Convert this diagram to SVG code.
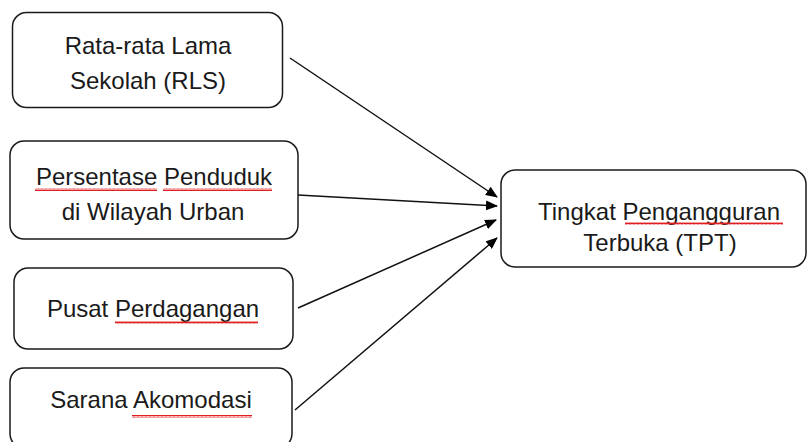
<svg xmlns="http://www.w3.org/2000/svg" width="807" height="442" viewBox="0 0 807 442">
<style>
.box{fill:#fff;stroke:#1a1a1a;stroke-width:1.5}
.t{font-family:"Liberation Sans",Arial,sans-serif;font-size:24px;fill:#1a1a1a;text-anchor:middle}
.c{stroke:#111;stroke-width:1.5;fill:none}
.sq{fill:url(#wave)}
</style>
<defs>
<marker id="ah" markerWidth="12" markerHeight="10" refX="11" refY="5" orient="auto" markerUnits="userSpaceOnUse" viewBox="0 0 12 10">
<path d="M0,0 L12,5 L0,10 Z" fill="#000"/>
</marker>
<pattern id="wave" width="4" height="3" patternUnits="userSpaceOnUse">
<path d="M0,2.5 L1,0.5 L2,2.5 L3,0.5 L4,2.5" fill="none" stroke="#e02020" stroke-width="1"/>
</pattern>
</defs>
<g id="connectors">
<line class="c" x1="290" y1="58" x2="497" y2="197" marker-end="url(#ah)"/>
<line class="c" x1="298" y1="195" x2="497" y2="206" marker-end="url(#ah)"/>
<line class="c" x1="298" y1="308" x2="496" y2="220" marker-end="url(#ah)"/>
<line class="c" x1="295" y1="410" x2="497" y2="238" marker-end="url(#ah)"/>
</g>
<g id="rls">
<rect class="box" x="12.5" y="12.5" width="270" height="95" rx="14"/>
<text class="t" x="148" y="54">Rata-rata Lama</text>
<text class="t" x="148" y="89">Sekolah (RLS)</text>
</g>
<g id="urban">
<rect class="box" x="10" y="141" width="288" height="98" rx="14"/>
<text class="t" x="154" y="185">Persentase Penduduk</text>
<text class="t" x="153" y="220">di Wilayah Urban</text>
<rect class="sq" x="35" y="188" width="122" height="3"/>
<rect class="sq" x="163" y="188" width="109" height="3"/>
</g>
<g id="dagang">
<rect class="box" x="14" y="268" width="279" height="81" rx="14"/>
<text class="t" x="153" y="317">Pusat Perdagangan</text>
<rect class="sq" x="115" y="321" width="143" height="3"/>
</g>
<g id="akomodasi">
<rect class="box" x="10" y="368" width="282" height="80" rx="14"/>
<text class="t" x="151" y="408">Sarana Akomodasi</text>
<rect class="sq" x="132" y="415" width="120" height="3"/>
</g>
<g id="tpt">
<rect class="box" x="501" y="170" width="305" height="97" rx="14"/>
<text class="t" x="659" y="220">Tingkat Pengangguran</text>
<text class="t" x="660" y="251">Terbuka (TPT)</text>
<rect class="sq" x="625" y="222" width="158" height="3"/>
</g>
</svg>
